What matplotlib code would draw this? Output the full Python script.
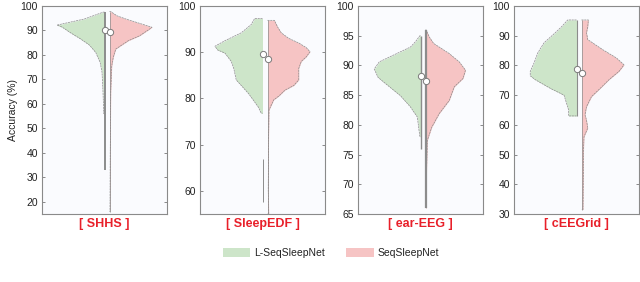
import numpy as np
import matplotlib.pyplot as plt
from matplotlib.patches import Patch

plt.rcParams['font.family'] = ['Liberation Sans', 'DejaVu Sans']

# Datos: perfiles de densidad (valor, semiancho)
names = ['SHHS', 'SleepEDF', 'ear-EEG', 'cEEGrid']
ylims = [(15, 100), (55, 100), (65, 100), (30, 100)]
yticks = [np.arange(20, 101, 10), np.arange(60, 101, 10),
          np.arange(65, 101, 5), np.arange(30, 101, 10)]

# L-SeqSleepNet (verde)
l_y = [
    [97.5, 94.7, 92.2, 91.4, 89, 86.5, 84, 81, 77, 73, 65, 56],
    [97.3, 96, 94.2, 92.5, 91.3, 90.5, 89.8, 88, 86.5, 84, 82.5, 81, 79.5, 78.2, 76.8],
    [95, 94, 93.1, 91.7, 90.6, 89.4, 88, 86.6, 84.9, 83, 81.3, 79.6, 78],
    [95.3, 93, 91, 87.6, 84.2, 80.8, 78, 76.5, 75.2, 72.3, 70, 67.3, 65, 63],
]
l_w = [
    [0.01, 0.16, 0.38, 0.34, 0.27, 0.19, 0.12, 0.07, 0.035, 0.02, 0.012, 0.006],
    [0.063, 0.09, 0.17, 0.30, 0.38, 0.36, 0.30, 0.25, 0.23, 0.21, 0.16, 0.11, 0.07, 0.035, 0.01],
    [0.005, 0.04, 0.08, 0.22, 0.33, 0.37, 0.34, 0.26, 0.16, 0.08, 0.025, 0.015, 0.005],
    [0.07, 0.12, 0.17, 0.26, 0.31, 0.34, 0.37, 0.37, 0.33, 0.21, 0.10, 0.08, 0.063, 0.063],
]
l_whisk = [(33, 97.5), (57.5, 67), (76, 95), (63, 95.3)]
l_med = [90, 89.7, 88.3, 78.9]

# SeqSleepNet (rojo)
s_y = [
    [97.7, 96, 94.7, 92.6, 91.3, 90.2, 87.8, 85.8, 82.4, 79, 75.5, 65, 40, 16],
    [96.9, 95.5, 94.2, 93, 92, 91, 90.1, 89, 88, 86.5, 84, 82.8, 81.8, 80.5, 79.7, 77.5, 70, 60, 55],
    [96, 94.8, 93.7, 92, 90.6, 89.2, 87.8, 86.4, 84.1, 81.9, 79.6, 77.4, 72, 66],
    [95.3, 93, 91, 88.7, 85.3, 82.5, 80.2, 78, 75.2, 72.3, 69.5, 66.1, 63.4, 61.6, 58.9, 56, 51.4, 40, 31.5],
]
s_w = [
    [0.01, 0.06, 0.13, 0.26, 0.34, 0.31, 0.24, 0.15, 0.05, 0.03, 0.018, 0.01, 0.006, 0.004],
    [0.055, 0.08, 0.11, 0.17, 0.25, 0.31, 0.34, 0.31, 0.27, 0.25, 0.25, 0.21, 0.14, 0.09, 0.05, 0.012, 0.008, 0.006, 0.01],
    [0.005, 0.03, 0.065, 0.19, 0.27, 0.32, 0.30, 0.23, 0.19, 0.11, 0.05, 0.015, 0.008, 0.006],
    [0.055, 0.05, 0.04, 0.05, 0.17, 0.28, 0.34, 0.30, 0.22, 0.15, 0.08, 0.04, 0.028, 0.04, 0.05, 0.02, 0.016, 0.014, 0.012],
]
s_whisk = [(16, 97.7), (55, 97), (66, 96), (31.5, 95.3)]
s_med = [89.2, 88.5, 87.3, 77.6]

l_lw = [1.4, 0.7, 1.0, 0.8]
s_lw = [0.5, 0.5, 1.6, 0.5]

verde = '#cde5c9'
rojo = '#f6c4c4'
borde = '#8a8a8a'
fondo = '#fafbfe'

fig = plt.figure(figsize=(6.4, 2.82), dpi=100)
lefts = [42, 200, 358, 514]
c = 0.52   # centro del violín
g = 0.02   # medio hueco

for i in range(4):
    ax = fig.add_axes([lefts[i] / 640, 1 - 214 / 282, 125 / 640, 208 / 282])
    ax.set_facecolor(fondo)
    ax.set_xlim(0, 1)
    ax.set_ylim(*ylims[i])

    y = np.array(l_y[i]); w = np.array(l_w[i])
    ax.fill_betweenx(y, c - g - w, c - g, color=verde, lw=0)
    ax.plot(np.r_[c - g, c - g - w, c - g], np.r_[y[0], y, y[-1]],
            color=borde, lw=0.5, ls=(0, (3, 1)))
    ax.plot([c - g, c - g], l_whisk[i], color='#8c8c8c', lw=l_lw[i], solid_capstyle='butt')

    y = np.array(s_y[i]); w = np.array(s_w[i])
    ax.fill_betweenx(y, c + g, c + g + w, color=rojo, lw=0)
    ax.plot(np.r_[c + g, c + g + w, c + g], np.r_[y[0], y, y[-1]],
            color=borde, lw=0.5, ls=(0, (3, 1)))
    ax.plot([c + g, c + g], s_whisk[i], color='#8c8c8c', lw=s_lw[i], solid_capstyle='butt')

    ax.plot(c - g, l_med[i], 'o', ms=4.5, mfc='white', mec='#7a7a7a', mew=0.7, zorder=5)
    ax.plot(c + g, s_med[i], 'o', ms=4.5, mfc='white', mec='#7a7a7a', mew=0.7, zorder=5)

    ax.set_xticks([])
    ax.set_yticks(yticks[i])
    ax.tick_params(axis='y', direction='in', right=True, length=2.5, width=0.6,
                   color='#777777', labelsize=7.5, labelcolor='#222222', pad=3)
    for s in ax.spines.values():
        s.set_color('#8a8a8a')
        s.set_linewidth(0.8)
    ax.text(0.5, -0.048, '[ ' + names[i] + ' ]', transform=ax.transAxes,
            ha='center', va='center', color='#e8202a', fontsize=9, fontweight='bold')
    if i == 0:
        ax.set_ylabel('Accuracy (%)', fontsize=7.5, color='#222222', labelpad=2)

handles = [Patch(facecolor=verde, edgecolor='none', label='L-SeqSleepNet'),
           Patch(facecolor=rojo, edgecolor='none', label='SeqSleepNet')]
fig.legend(handles=handles, loc='center', bbox_to_anchor=(0.517, 0.103), ncol=2,
           frameon=False, fontsize=7.5, handlelength=2.6, handleheight=1.0,
           columnspacing=2.1, handletextpad=0.4, labelcolor='#222222')

plt.savefig('out.png', dpi=100)
